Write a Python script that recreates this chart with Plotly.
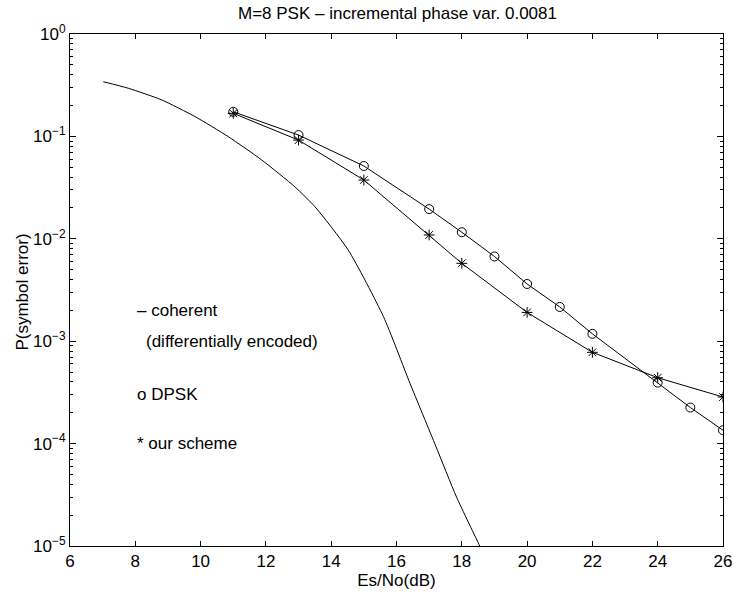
import math
import plotly.graph_objects as go

# Es/No grid (dB) and symbol error probabilities
snr_coherent = [7.02, 7.79, 8.81, 9.83, 10.85, 11.87, 12.89, 13.5, 14.52, 15.6, 16.41, 17.2, 17.84, 18.55, 18.7]
pe_coherent = [0.342, 0.295, 0.227, 0.156, 0.0993, 0.0589, 0.0321, 0.0206, 0.00778, 0.00174,
               0.00039, 9.5e-5, 3.0e-5, 1.0e-5, 7.9e-6]

snr_dpsk = [11, 13, 15, 17, 18, 19, 20, 21, 22, 24, 25, 26]
pe_dpsk = [0.174, 0.103, 0.0514, 0.0195, 0.0116, 0.00672, 0.00362, 0.00216, 0.00118, 0.000394, 0.000225, 0.000135]

snr_ours = [11, 13, 15, 17, 18, 20, 22, 24, 26]
pe_ours = [0.168, 0.092, 0.0375, 0.0109, 0.00576, 0.00191, 0.000779, 0.00044, 0.000285]

x_ticks = [6, 8, 10, 12, 14, 16, 18, 20, 22, 24, 26]
y_ticks = [1e-5, 1e-4, 1e-3, 1e-2, 1e-1, 1]
y_ticktext = ["10<sup>\u22125</sup>", "10<sup>\u22124</sup>", "10<sup>\u22123</sup>",
              "10<sup>\u22122</sup>", "10<sup>\u22121</sup>", "10<sup>0</sup>"]

# text labels placed inside the axes
notes = [
    (8.0, 2e-3, "\u2013 coherent"),
    (8.28, 1e-3, "(differentially encoded)"),
    (8.0, 3e-4, "o DPSK"),
    (8.0, 1e-4, "* our scheme"),
]

FONT = "Liberation Sans, Arial, Helvetica, sans-serif"
W, H = 735, 595
ML, MR, MT, MB = 70, 12, 34, 49

fig = go.Figure()
fig.add_trace(go.Scatter(x=snr_coherent, y=pe_coherent, mode="lines",
                         line=dict(color="black", width=1, shape="spline", smoothing=0.6),
                         showlegend=False))
fig.add_trace(go.Scatter(x=snr_dpsk, y=pe_dpsk, mode="lines+markers",
                         line=dict(color="black", width=1),
                         marker=dict(symbol="circle-open", size=9, color="black",
                                     line=dict(width=1, color="black")),
                         showlegend=False))
fig.add_trace(go.Scatter(x=snr_ours, y=pe_ours, mode="lines+markers",
                         line=dict(color="black", width=1),
                         marker=dict(symbol="asterisk-open", size=9, color="black",
                                     line=dict(width=1, color="black")),
                         showlegend=False))

# annotations on a log axis take the exponent as their y position
for nx, ny, txt in notes:
    fig.add_annotation(x=nx, y=math.log10(ny), yref="y", xref="x", text=txt, showarrow=False,
                       xanchor="left", yanchor="middle",
                       font=dict(family=FONT, size=17, color="black"))

# vertical axis label, placed left of the tick labels
fig.add_annotation(x=(23 - ML) / (W - ML - MR), y=0.495, xref="paper", yref="paper",
                   text="P(symbol error)", textangle=-90, showarrow=False,
                   xanchor="center", yanchor="middle",
                   font=dict(family=FONT, size=17, color="black"))

minor_vals = [m * 10.0 ** e for e in range(-5, 0) for m in range(2, 10)]

fig.update_layout(
    width=W, height=H,
    margin=dict(l=ML, r=MR, t=MT, b=MB),
    paper_bgcolor="white", plot_bgcolor="white",
    font=dict(family=FONT, size=17, color="black"),
    title=dict(text="M=8 PSK \u2013 incremental phase var. 0.0081",
               x=397.5 / W, xanchor="center", y=1 - 13 / H, yanchor="middle",
               font=dict(family=FONT, size=17, color="black")),
    xaxis=dict(range=[6, 26], tickvals=x_ticks, ticks="inside", ticklen=5,
               tickcolor="black", showline=True, linecolor="black", linewidth=1,
               mirror="ticks", showgrid=False, zeroline=False, automargin=False,
               title=dict(text="Es/No(dB)", standoff=2, font=dict(size=17))),
    yaxis=dict(type="log", range=[-5, 0], tickvals=y_ticks, ticktext=y_ticktext,
               ticks="inside", ticklen=6, tickcolor="black", showline=True,
               linecolor="black", linewidth=1, mirror="ticks", showgrid=False,
               zeroline=False, automargin=False,
               minor=dict(tickvals=minor_vals, ticks="inside", ticklen=3,
                          tickcolor="black", showgrid=False)),
)

fig.write_html("out.html")
